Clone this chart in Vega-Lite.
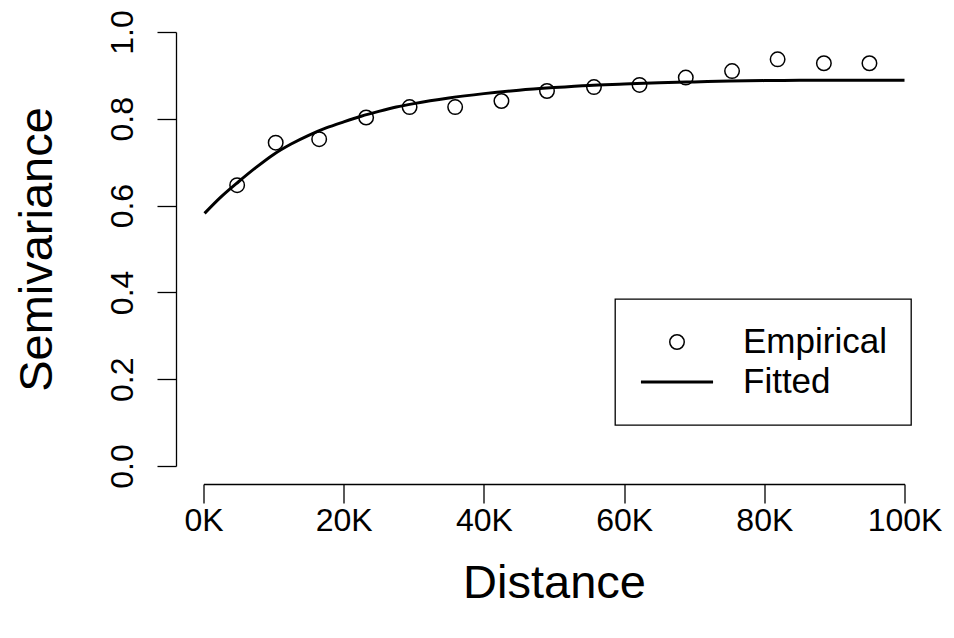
{
  "$schema": "https://vega.github.io/schema/vega-lite/v6.json",
  "width": 701,
  "height": 434,
  "autosize": {"type": "none"},
  "padding": {"left": 203.5, "top": 32, "right": 49.5, "bottom": 172},
  "background": "white",
  "config": {
    "view": {"stroke": null},
    "font": "Liberation Sans",
    "axis": {
      "grid": false,
      "domainColor": "black",
      "domainWidth": 1.3,
      "tickColor": "black",
      "tickWidth": 1.3,
      "tickSize": 19,
      "labelColor": "black",
      "labelFontSize": 32,
      "titleColor": "black",
      "titleFontWeight": "normal",
      "titleFontSize": 47
    },
    "legend": {
      "strokeColor": "black",
      "strokeWidth": 1.3,
      "fillColor": "white",
      "padding": 24,
      "labelFontSize": 35,
      "labelColor": "black",
      "labelOffset": 28,
      "rowPadding": 2,
      "clipHeight": 38,
      "symbolStrokeColor": "black",
      "symbolFillColor": "transparent"
    }
  },
  "datasets": {
    "empirical": [
      {"distance": 4800, "semivariance": 0.647, "series": "Empirical"},
      {"distance": 10300, "semivariance": 0.745, "series": "Empirical"},
      {"distance": 16500, "semivariance": 0.753, "series": "Empirical"},
      {"distance": 23200, "semivariance": 0.803, "series": "Empirical"},
      {"distance": 29400, "semivariance": 0.827, "series": "Empirical"},
      {"distance": 35900, "semivariance": 0.827, "series": "Empirical"},
      {"distance": 42500, "semivariance": 0.841, "series": "Empirical"},
      {"distance": 49000, "semivariance": 0.864, "series": "Empirical"},
      {"distance": 55700, "semivariance": 0.873, "series": "Empirical"},
      {"distance": 62200, "semivariance": 0.878, "series": "Empirical"},
      {"distance": 68800, "semivariance": 0.895, "series": "Empirical"},
      {"distance": 75400, "semivariance": 0.910, "series": "Empirical"},
      {"distance": 81900, "semivariance": 0.937, "series": "Empirical"},
      {"distance": 88500, "semivariance": 0.928, "series": "Empirical"},
      {"distance": 95000, "semivariance": 0.928, "series": "Empirical"}
    ],
    "fitted": [
      {"distance": 150, "semivariance": 0.582, "series": "Fitted"},
      {"distance": 2500, "semivariance": 0.620, "series": "Fitted"},
      {"distance": 5000, "semivariance": 0.655, "series": "Fitted"},
      {"distance": 7500, "semivariance": 0.688, "series": "Fitted"},
      {"distance": 10000, "semivariance": 0.718, "series": "Fitted"},
      {"distance": 12500, "semivariance": 0.742, "series": "Fitted"},
      {"distance": 15000, "semivariance": 0.762, "series": "Fitted"},
      {"distance": 17500, "semivariance": 0.779, "series": "Fitted"},
      {"distance": 20000, "semivariance": 0.793, "series": "Fitted"},
      {"distance": 22500, "semivariance": 0.806, "series": "Fitted"},
      {"distance": 25000, "semivariance": 0.817, "series": "Fitted"},
      {"distance": 27500, "semivariance": 0.827, "series": "Fitted"},
      {"distance": 30000, "semivariance": 0.835, "series": "Fitted"},
      {"distance": 35000, "semivariance": 0.848, "series": "Fitted"},
      {"distance": 40000, "semivariance": 0.858, "series": "Fitted"},
      {"distance": 45000, "semivariance": 0.866, "series": "Fitted"},
      {"distance": 50000, "semivariance": 0.872, "series": "Fitted"},
      {"distance": 55000, "semivariance": 0.877, "series": "Fitted"},
      {"distance": 60000, "semivariance": 0.880, "series": "Fitted"},
      {"distance": 65000, "semivariance": 0.883, "series": "Fitted"},
      {"distance": 70000, "semivariance": 0.885, "series": "Fitted"},
      {"distance": 75000, "semivariance": 0.887, "series": "Fitted"},
      {"distance": 80000, "semivariance": 0.888, "series": "Fitted"},
      {"distance": 85000, "semivariance": 0.889, "series": "Fitted"},
      {"distance": 90000, "semivariance": 0.889, "series": "Fitted"},
      {"distance": 95000, "semivariance": 0.889, "series": "Fitted"},
      {"distance": 100000, "semivariance": 0.889, "series": "Fitted"}
    ]
  },
  "encoding": {
    "x": {
      "field": "distance",
      "type": "quantitative",
      "scale": {"domain": [0, 100000], "nice": false, "zero": false},
      "axis": {
        "title": "Distance",
        "values": [0, 20000, 40000, 60000, 80000, 100000],
        "labelExpr": "(datum.value / 1000) + 'K'",
        "offset": 18,
        "labelPadding": 2,
        "titlePadding": 24,
        "labelFlush": false,
        "labelOverlap": false
      }
    },
    "y": {
      "field": "semivariance",
      "type": "quantitative",
      "scale": {"domain": [0, 1], "nice": false},
      "axis": {
        "title": "Semivariance",
        "values": [0, 0.2, 0.4, 0.6, 0.8, 1],
        "format": ".1f",
        "offset": 27.5,
        "labelAngle": 270,
        "labelAlign": "center",
        "labelBaseline": "alphabetic",
        "labelPadding": 25,
        "titlePadding": 45,
        "labelFlush": false,
        "labelOverlap": false
      }
    }
  },
  "layer": [
    {
      "data": {"name": "fitted"},
      "mark": {"type": "line", "color": "black", "interpolate": "monotone"},
      "encoding": {
        "strokeWidth": {
          "field": "series",
          "type": "nominal",
          "scale": {"type": "ordinal", "domain": ["Empirical", "Fitted"], "range": [1.5, 3]},
          "legend": {"title": null, "orient": "none", "legendX": 411.5, "legendY": 267}
        }
      }
    },
    {
      "data": {"name": "empirical"},
      "mark": {"type": "point", "filled": false, "color": "black", "opacity": 1},
      "encoding": {
        "shape": {
          "field": "series",
          "type": "nominal",
          "scale": {"domain": ["Empirical", "Fitted"], "range": ["circle", "stroke"]},
          "legend": {"title": null, "orient": "none", "legendX": 411.5, "legendY": 267}
        },
        "size": {
          "field": "series",
          "type": "nominal",
          "scale": {"type": "ordinal", "domain": ["Empirical", "Fitted"], "range": [210, 5200]},
          "legend": {"title": null, "orient": "none", "legendX": 411.5, "legendY": 267}
        },
        "strokeWidth": {
          "field": "series",
          "type": "nominal",
          "scale": {"type": "ordinal", "domain": ["Empirical", "Fitted"], "range": [1.5, 3]},
          "legend": {"title": null, "orient": "none", "legendX": 411.5, "legendY": 267}
        }
      }
    }
  ]
}
